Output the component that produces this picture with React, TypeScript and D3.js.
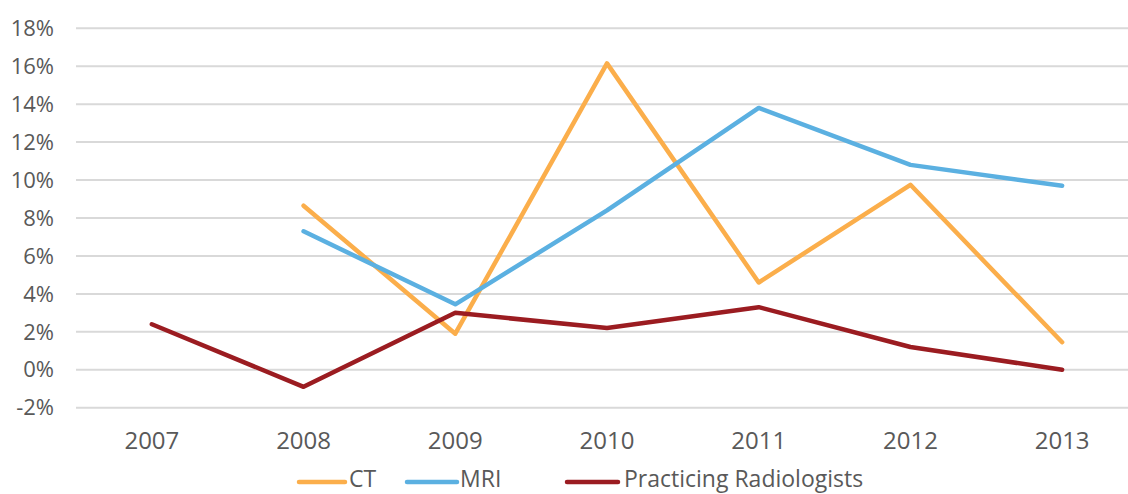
import React from "react";
import * as d3 from "d3";

const years = ["2007", "2008", "2009", "2010", "2011", "2012", "2013"];
const ctValues: (number | null)[] = [null, 8.65, 1.9, 16.15, 4.6, 9.75, 1.45];
const mriValues: (number | null)[] = [null, 7.3, 3.45, 8.4, 13.8, 10.8, 9.7];
const radValues: (number | null)[] = [2.4, -0.9, 3.0, 2.2, 3.3, 1.2, 0.0];
const yTicks = [-2, 0, 2, 4, 6, 8, 10, 12, 14, 16, 18];

const series = [
  { name: "CT", values: ctValues, color: "#FBAE4B" },
  { name: "MRI", values: mriValues, color: "#5BB0E1" },
  { name: "Practicing Radiologists", values: radValues, color: "#9B1C21" },
];

const W = 1128;
const H = 494;
const FONT = "'Open Sans', Lato, sans-serif";
const TEXT = "#595959";

export default function App() {
  const x = d3.scaleBand<string>().domain(years).range([76, 1138]);
  const y = d3.scaleLinear().domain([-2, 18]).range([407.7, 28.3]);
  const cx = (d: string) => (x(d) as number) + x.bandwidth() / 2;

  const legendItems = [
    { x1: 299, x2: 345, tx: 349 },
    { x1: 407, x2: 457, tx: 460 },
    { x1: 567, x2: 618, tx: 624 },
  ];

  return (
    <svg width={W} height={H} style={{ position: "absolute", left: 0, top: 0 }}>
      <rect x={0} y={0} width={W} height={H} fill="#ffffff" />
      {yTicks.map((t) => (
        <g key={t}>
          <line x1={76} x2={1138} y1={y(t)} y2={y(t)} stroke="#D9D9D9" strokeWidth={2} />
          <text
            x={54}
            y={y(t)}
            dy="0.35em"
            textAnchor="end"
            fontFamily={FONT}
            fontSize={22}
            fill={TEXT}
          >
            {t}%
          </text>
        </g>
      ))}
      {years.map((yr) => (
        <text
          key={yr}
          x={cx(yr)}
          y={449}
          textAnchor="middle"
          fontFamily={FONT}
          fontSize={24}
          fill={TEXT}
        >
          {yr}
        </text>
      ))}
      {series.map((s) => {
        const line = d3
          .line<number | null>()
          .defined((d) => d !== null)
          .x((_, i) => cx(years[i]))
          .y((d) => y(d as number));
        return (
          <path
            key={s.name}
            d={line(s.values) || ""}
            fill="none"
            stroke={s.color}
            strokeWidth={4.5}
            strokeLinejoin="round"
            strokeLinecap="round"
          />
        );
      })}
      {series.map((s, i) => (
        <g key={s.name}>
          <line
            x1={legendItems[i].x1}
            x2={legendItems[i].x2}
            y1={482}
            y2={482}
            stroke={s.color}
            strokeWidth={4.5}
            strokeLinecap="round"
          />
          <text
            x={legendItems[i].tx}
            y={487}
            fontFamily={FONT}
            fontSize={23}
            fill={TEXT}
          >
            {s.name}
          </text>
        </g>
      ))}
    </svg>
  );
}
